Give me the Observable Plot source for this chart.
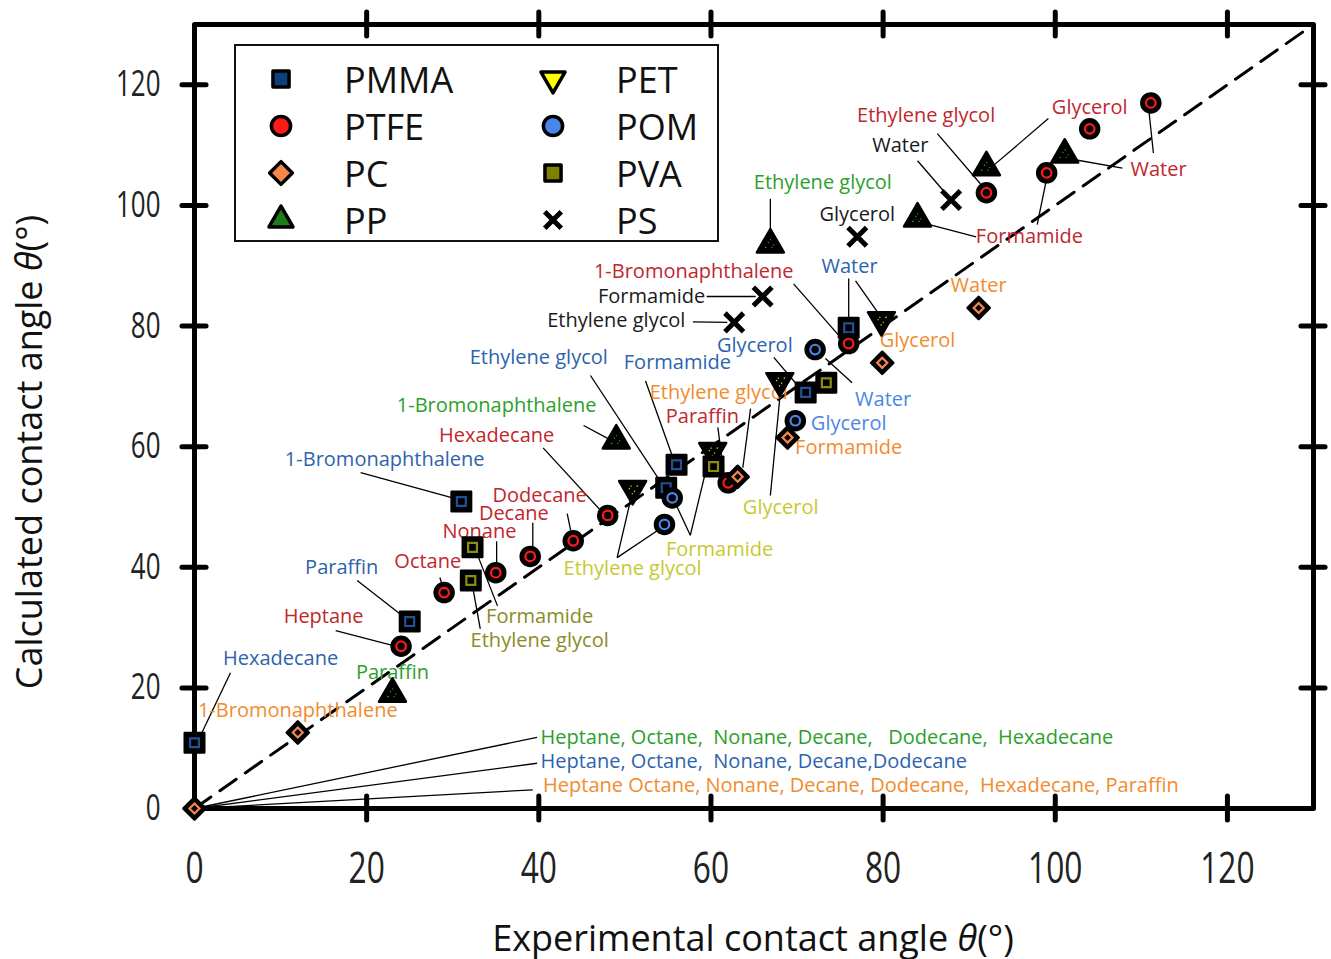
<!DOCTYPE html>
<html><head><meta charset="utf-8">
<script src="https://cdn.jsdelivr.net/npm/d3@7"></script>
<script src="https://cdn.jsdelivr.net/npm/@observablehq/plot@0.6"></script>
<style>
body{margin:0;background:#fff;}
#chart{position:relative;width:1331px;height:959px;}
</style>
</head><body><div id="chart"></div>
<script>
// ---------- data ----------
const xTicks = [0, 20, 40, 60, 80, 100, 120];
const yTicks = [0, 20, 40, 60, 80, 100, 120];
const materials = ["PMMA", "PTFE", "PC", "PP", "PET", "POM", "PVA", "PS"];

// [liquid, experimental angle, calculated angle]
const PMMA = [["Hexadecane",0,10.9],["1-Bromonaphthalene",31.0,50.9],["Paraffin",25.0,31.0],["Ethylene glycol",54.8,53.2],["Formamide",56.0,57.0],["Glycerol",71.0,69.0],["Water",76.0,79.7]];
const PTFE = [["Heptane",24.0,26.9],["Octane",29.0,35.8],["Nonane",35.0,39.1],["Decane",39.0,41.8],["Dodecane",44.0,44.4],["Hexadecane",48.0,48.6],["Paraffin",62.0,54.0],["1-Bromonaphthalene",76.0,77.1],["Ethylene glycol",92.0,102.1],["Formamide",99.0,105.4],["Glycerol",104.0,112.7],["Water",111.1,117.0]];
const PC = [["Alkanes",0,0],["1-Bromonaphthalene",12.0,12.6],["Ethylene glycol",63.1,55.0],["Formamide",68.9,61.5],["Glycerol",79.9,73.9],["Water",91.1,83.0]];
const PP = [["Paraffin",23.0,19.0],["1-Bromonaphthalene",49.0,61.0],["Ethylene glycol",66.9,93.5],["Formamide",84.0,97.8],["Glycerol",92.0,106.3],["Water",101.1,108.4]];
const PET = [["Ethylene glycol",50.9,53.0],["Formamide",60.2,59.3],["Glycerol",68.0,70.9],["Water",79.8,81.0]];
const POM = [["Ethylene glycol",54.6,47.1],["Formamide",55.5,51.5],["Glycerol",69.8,64.3],["Water",72.1,76.1]];
const PVA = [["Ethylene glycol",32.1,37.8],["Formamide",32.3,43.3],["Glycerol",60.3,56.7],["Water",73.4,70.6]];
const PS = [["Ethylene glycol",62.7,80.6],["Formamide",66.0,84.9],["Glycerol",77.0,94.8],["Water",87.9,100.9]];

// annotation labels: [material (colour), text, x, y]
const pointLabels = [
  ["PMMA","Hexadecane",10.0,24.9],["PMMA","1-Bromonaphthalene",22.1,57.8],["PMMA","Paraffin",17.1,39.9],
  ["PMMA","Ethylene glycol",40.0,74.8],["PMMA","Formamide",56.1,73.9],["PMMA","Glycerol",65.1,76.7],["PMMA","Water",76.1,89.8],
  ["PC","1-Bromonaphthalene",12.0,16.2],["PC","Ethylene glycol",60.9,69.0],["PC","Formamide",76.0,59.8],["PC","Glycerol",84.0,77.6],["PC","Water",91.1,86.7],
  ["PP","Paraffin",23.0,22.5],["PP","1-Bromonaphthalene",35.1,66.8],["PP","Ethylene glycol",73.0,103.8],
  ["PTFE","Heptane",15.0,31.8],["PTFE","Octane",27.1,40.9],["PTFE","Nonane",33.1,45.9],["PTFE","Decane",37.1,48.9],
  ["PTFE","Dodecane",40.1,51.9],["PTFE","Hexadecane",35.1,61.8],["PTFE","Paraffin",59.0,65.0],["PTFE","1-Bromonaphthalene",58.0,89.0],
  ["PTFE","Ethylene glycol",85.0,114.9],["PTFE","Glycerol",104.0,116.2],["PTFE","Formamide",97.0,94.8],["PTFE","Water",112.0,105.9],
  ["PET","Ethylene glycol",50.9,39.8],["PET","Formamide",61.0,42.9],["PET","Glycerol",68.1,49.9],
  ["POM","Water",80.0,67.8],["POM","Glycerol",76.0,63.8],
  ["PVA","Formamide",40.1,31.8],["PVA","Ethylene glycol",40.1,27.8],
  ["PS","Formamide",53.1,84.9],["PS","Ethylene glycol",49.0,80.9],["PS","Glycerol",77.0,98.5],["PS","Water",82.0,109.9]
];
const groupLabels = [
  ["PP","Heptane, Octane,  Nonane, Decane,   Dodecane,  Hexadecane",40.2,11.8],
  ["PMMA","Heptane, Octane,  Nonane, Decane,Dodecane",40.2,7.8],
  ["PC","Heptane Octane, Nonane, Decane, Dodecane,  Hexadecane, Paraffin",40.5,3.8]
];
// leader lines: [x1, y1, x2, y2]
const leaders = [
  [4.18,22.5,0.7,12.1],[16.4,29.5,23.1,27.0],[18.9,37.8,24.3,31.8],[28.5,38.3,28.8,37.0],
  [35.1,44.3,35.1,40.6],[39.3,47.4,39.3,43.1],[43.3,48.9,43.7,46.1],[40.5,59.8,47.2,49.4],
  [19.3,55.7,30.3,51.4],[45.2,63.5,48.1,61.3],[35.2,33.6,33.0,41.6],[33.2,29.8,32.4,36.1],
  [49.1,41.6,50.7,51.4],[49.1,41.6,54.1,46.4],[57.6,45.3,56.0,50.2],[57.6,45.3,59.4,56.0],
  [66.9,51.9,68.1,69.6],[46.0,71.8,53.9,54.7],[52.4,70.9,55.5,58.5],[64.6,66.3,63.7,56.5],
  [60.8,63.2,61.5,55.5],[67.3,74.8,69.8,70.6],[76.4,70.6,73.3,74.6],[76.0,87.9,76.0,81.2],
  [76.8,87.5,79.5,82.0],[69.6,87.0,75.0,78.2],[59.5,84.9,65.2,84.9],[57.9,80.7,61.9,80.6],
  [66.9,101.1,66.9,95.5],[84.0,107.4,87.2,102.1],[86.3,111.9,91.3,103.6],[99.2,114.4,92.8,106.6],
  [90.8,94.8,84.6,97.1],[97.9,96.8,98.9,103.8],[111.4,108.7,110.9,115.4],[107.8,106.2,101.8,107.7],
  [0,0,39.8,11.8],[0,0,39.8,7.5],[0,0,39.3,3.1]
];

// ---------- styles ----------
const markerColors = {PMMA:"#0d3f7c",PTFE:"#ff1a1a",PC:"#f4874b",PP:"#1a7d1a",PET:"#ffff00",POM:"#4a86e8",PVA:"#7f7f00",PS:"#000000"};
const innerColors = {PMMA:"#1f5296",PTFE:"#ff1a1a",PC:"#f4874b",PP:"#2ca02c",PET:"#e6e600",POM:"#4a86e8",PVA:"#8c8c10",PS:"#000000"};
const labelColors = {PMMA:"#2e63ad",PTFE:"#c1272d",PC:"#f08c2e",PP:"#2ca02c",PET:"#c8c832",POM:"#4a86e8",PVA:"#8b8b25",PS:"#1a1a1a"};
const invTriangle = {
  draw(context, size) {
    const s3 = Math.sqrt(3);
    const y = Math.sqrt(size / (s3 * 3));
    context.moveTo(0, y * 2);
    context.lineTo(-s3 * y, -y);
    context.lineTo(s3 * y, -y);
    context.closePath();
  }
};
const seriesStyle = {
  PMMA:{symbol:"square",r:11,ri:5},
  PTFE:{symbol:"circle",r:9.5,ri:4.8},
  PC:{symbol:"diamond2",r:10,ri:4.5},
  PP:{symbol:"triangle",r:10,ri:3.5},
  PET:{symbol:invTriangle,r:10,ri:3.5},
  POM:{symbol:"circle",r:9.5,ri:4.8},
  PVA:{symbol:"square",r:11,ri:5},
  PS:{symbol:"times",r:8.5,ri:0}
};
const seriesData = {PMMA,PTFE,PC,PP,PET,POM,PVA,PS};
const drawOrder = ["PMMA","PTFE","PET","PVA","PC","POM","PP","PS"];
const FONT = "'Open Sans', 'Noto Sans', sans-serif";

const pointMarks = drawOrder.flatMap(m => {
  const st = seriesStyle[m], data = seriesData[m];
  const pos = {x: d => d[1], y: d => d[2]};
  if (m === "PS") {
    return [Plot.dot(data, {...pos, symbol: st.symbol, r: st.r, fill: "none", stroke: "black", strokeWidth: 5})];
  }
  const tri = (m === "PP" || m === "PET");
  return [
    Plot.dot(data, {...pos, symbol: st.symbol, r: st.r, fill: "black", stroke: "black", strokeWidth: 2.5, strokeLinejoin: "round"}),
    Plot.dot(data, {...pos, symbol: st.symbol, r: st.ri, fill: "none", stroke: innerColors[m],
      strokeWidth: tri ? 1.2 : 2.2, strokeDasharray: tri ? "1.2,4.8" : null})
  ];
});

const labelMarks = materials.map(m => Plot.text(pointLabels.filter(d => d[0] === m), {
  x: d => d[2], y: d => d[3], text: d => d[1], fill: labelColors[m], fontSize: 20, fontFamily: FONT
}));
const groupMarks = groupLabels.map(g => Plot.text([g], {
  x: d => d[2], y: d => d[3], text: d => d[1], fill: labelColors[g[0]], fontSize: 20,
  textAnchor: "start", fontFamily: FONT
}));

const plot = Plot.plot({
  width: 1331, height: 959,
  marginLeft: 194, marginRight: 18, marginTop: 24, marginBottom: 151,
  x: {domain: [0, 130], axis: null},
  y: {domain: [0, 130], axis: null},
  style: {fontFamily: FONT, background: "white", overflow: "visible"},
  marks: [
    Plot.line([[0,0],[130,130]], {x: d => d[0], y: d => d[1], stroke: "black", strokeWidth: 3, strokeDasharray: "20,11"}),
    Plot.link(leaders, {x1: d => d[0], y1: d => d[1], x2: d => d[2], y2: d => d[3], stroke: "black", strokeWidth: 1.3}),
    Plot.frame({stroke: "black", strokeWidth: 5, strokeLinejoin: "round"}),
    Plot.ruleX(xTicks.filter(d => d > 0), {x: d => d, y1: -2, y2: 2, stroke: "black", strokeWidth: 5, strokeLinecap: "round"}),
    Plot.ruleX(xTicks.filter(d => d > 0), {x: d => d, y1: 128, y2: 132, stroke: "black", strokeWidth: 5, strokeLinecap: "round"}),
    Plot.ruleY(yTicks.filter(d => d > 0), {y: d => d, x1: -1.4, x2: 1.4, stroke: "black", strokeWidth: 5, strokeLinecap: "round"}),
    Plot.ruleY(yTicks.filter(d => d > 0), {y: d => d, x1: 128.6, x2: 131.4, stroke: "black", strokeWidth: 5, strokeLinecap: "round"}),
    Plot.text(xTicks, {x: d => d, y: 0, dy: 60, text: d => String(d), fontSize: 44, fill: "#222", fontFamily: FONT, ariaDescription: "xticklabel"}),
    Plot.text(yTicks, {x: 0, y: d => d, dx: -34, text: d => String(d), textAnchor: "end", fontSize: 36, fill: "#222", fontFamily: FONT, ariaDescription: "yticklabel"}),
    ...labelMarks,
    ...groupMarks,
    ...pointMarks
  ]
});

document.getElementById("chart").appendChild(plot);
const svg = d3.select(plot);

// condensed tick labels: append a horizontal squeeze to each label's own transform
svg.selectAll("g").each(function () {
  const desc = this.getAttribute("aria-description");
  if (desc !== "xticklabel" && desc !== "yticklabel") return;
  this.querySelectorAll("text").forEach(t => {
    const tr = t.getAttribute("transform");
    if (tr) t.setAttribute("transform", `${tr} scale(0.72,1)`);
  });
});

// axis titles
const xt = svg.append("text").attr("x", 753).attr("y", 937).attr("text-anchor", "middle")
  .attr("dominant-baseline", "central").attr("font-size", 36).attr("fill", "#111").attr("font-family", FONT);
xt.append("tspan").text("Experimental contact angle ");
xt.append("tspan").attr("font-style", "italic").text("θ");
xt.append("tspan").text("(°)");
const yt = svg.append("text").attr("transform", "translate(28,452) rotate(-90)").attr("text-anchor", "middle")
  .attr("dominant-baseline", "central").attr("font-size", 36).attr("fill", "#111").attr("font-family", FONT);
yt.append("tspan").text("Calculated contact angle ");
yt.append("tspan").attr("font-style", "italic").text("θ");
yt.append("tspan").text("(°)");

// legend
const legendSymbols = {PMMA: [d3.symbolSquare, 260], PTFE: [d3.symbolCircle, 290], PC: [d3.symbolDiamond2, 330], PP: [d3.symbolTriangle, 250],
  PET: [invTriangle, 250], POM: [d3.symbolCircle, 290], PVA: [d3.symbolSquare, 260], PS: [d3.symbolTimes, 180]};
const lg = svg.append("g");
lg.append("rect").attr("x", 235).attr("y", 45).attr("width", 483).attr("height", 196)
  .attr("fill", "white").attr("stroke", "#111").attr("stroke-width", 2);
materials.forEach((m, i) => {
  const col = Math.floor(i / 4), row = i % 4;
  const mx = col ? 553 : 281, tx = col ? 616 : 344, ty = 79 + row * 47;
  const [type, size] = legendSymbols[m];
  const p = lg.append("path").attr("d", d3.symbol(type, size)()).attr("transform", `translate(${mx},${ty})`);
  if (m === "PS") p.attr("fill", "none").attr("stroke", "black").attr("stroke-width", 5);
  else p.attr("fill", markerColors[m]).attr("stroke", "black").attr("stroke-width", 3.5).attr("stroke-linejoin", "round");
  lg.append("text").attr("x", tx).attr("y", ty).attr("dominant-baseline", "central").attr("text-anchor", "start")
    .attr("font-size", 36).attr("fill", "#111").attr("font-family", FONT).text(m);
});
</script>
</body></html>
